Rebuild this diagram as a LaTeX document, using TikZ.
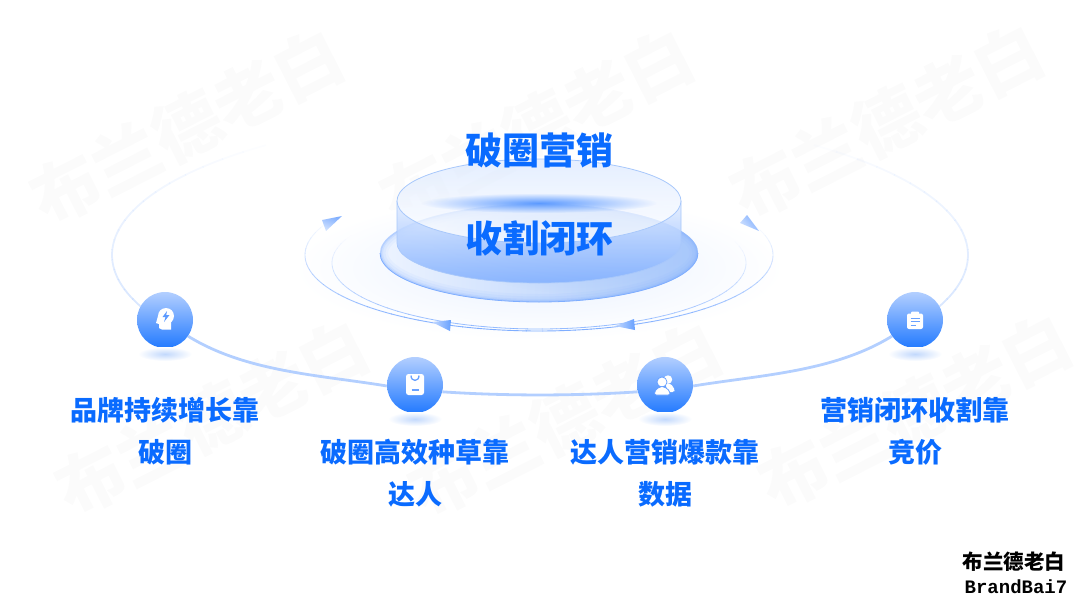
\documentclass[tikz,border=0pt]{standalone}
\usepackage{fontspec}
\setmainfont{Noto Sans CJK SC}
\newfontfamily\logofont{Liberation Mono}
\usepackage{tikz}
\usetikzlibrary{shapes, positioning, fadings}
\definecolor{textblue}{HTML}{0A6BFF}
\definecolor{ringblue}{HTML}{7FAEFF}
\definecolor{arcblue}{HTML}{B3CFFF}
\definecolor{rimblue}{HTML}{A8C8FB}
\definecolor{markgray}{HTML}{FBFBFB}
\tikzfading[name=softblob, inner color=transparent!0, outer color=transparent!100]
\tikzset{
    bubble/.style={circle, minimum size=56pt, inner sep=0pt, shade, top color=arcblue, bottom color=textblue!90!white},
    caption/.style={font=\bfseries\fontsize{27}{42}\selectfont, text=textblue, align=center, inner sep=0pt},
    bigword/.style={font=\bfseries\fontsize{37}{40}\selectfont, text=textblue, inner sep=0pt},
    watermark/.style={font=\bfseries\fontsize{68}{70}\selectfont, text=markgray, rotate=27, inner sep=0pt},
    glowspot/.style={shade, inner color=#1, outer color=white},
    softspot/.style={fill=#1, path fading=softblob},
    arcline/.style={draw=arcblue, line width=2.8pt},
    tipfill/.style={shade, left color=#1, right color=#1!35!white},
}
\begin{document}
\begin{tikzpicture}[x=1pt, y=-1pt]
        \useasboundingbox (0,0) rectangle (1080,608);
        % watermarks
        \foreach \mx/\my/\mname in {187/127/ma, 537/127/mb, 887/122/mc, 212/418/md, 565/420/me, 915/412/mf}
            \node[watermark] (\mname) at (\mx,\my) {布兰德老白};
        % big arc, faded upper ends
        \foreach \t in {158,162,...,226} {
            \pgfmathsetmacro\o{max(0,0.5*(232-\t)/74)}
            \draw[arcblue, line width=1.8pt, opacity=\o] plot[domain=\t:\t+4.2, samples=4] ({540+428*cos(\x)},{255+143*sin(\x)});
            \draw[arcblue, line width=1.8pt, opacity=\o] plot[domain=180-\t:176-\t-0.2, samples=4] ({540+428*cos(\x)},{255+143*sin(\x)});
        }
        % glow under the disc
        \shade[glowspot=ringblue!18!white] (539,268) ellipse [x radius=245pt, y radius=72pt];
        % rings
        \foreach \t in {-43,-39,...,219} {
            \pgfmathsetmacro\o{max(0,min(1,0.3+0.7*sin(\t)))}
            \draw[ringblue, line width=0.9pt, opacity=\o] plot[domain=\t:\t+4.2, samples=4] ({539+234*cos(\x)},{255+76*sin(\x)});
        }
        \foreach \t in {-47,-43,...,223} {
            \pgfmathsetmacro\o{max(0,min(1,0.22+0.6*sin(\t)))}
            \draw[ringblue, line width=0.8pt, opacity=\o] plot[domain=\t:\t+4.2, samples=4] ({539+207*cos(\x)},{263+66*sin(\x)});
        }
        \shade[tipfill=ringblue, shading angle=-20] (322,220) -- (342,216) -- (326,231) -- cycle;
        \shade[tipfill=ringblue, shading angle=-50] (747,215) -- (759,231) -- (740,223) -- cycle;
        \shade[left color=ringblue!45!white, right color=ringblue!80!textblue] (432,322) -- (451,320) -- (450,331) -- cycle;
        \shade[left color=ringblue!45!white, right color=ringblue!80!textblue] (615,326) -- (634,319) -- (635,330) -- cycle;
        % disc
        \shade[left color=ringblue!14!white, right color=rimblue] (539,253) ellipse [x radius=159pt, y radius=49pt];
        \begin{scope}
            \clip (539,253) ellipse [x radius=159pt, y radius=49pt];
            \fill[softspot=rimblue] (600,235) ellipse [x radius=170pt, y radius=60pt];
            \foreach \w/\o in {16/0.07, 11/0.09, 6/0.15, 3/0.3}
                \draw[ringblue, line width=\w pt, opacity=\o] (539,253) ellipse [x radius=159pt, y radius=49pt];
        \end{scope}
        \draw[ringblue, line width=0.8pt] (380,253) arc (180:360:159pt and 49pt);
        % cylinder
        \shade[top color=ringblue!22!white, bottom color=ringblue, opacity=0.85] (397,201) arc (180:360:142pt and 41pt) -- (681,243) arc (360:180:142pt and 40pt) -- cycle;
        \draw[rimblue, line width=0.7pt] (397,201) -- (397,243) arc (180:360:142pt and 40pt) -- (681,201);
        \shade[top color=ringblue!28!white, middle color=white, bottom color=white, opacity=0.75] (539,201) ellipse [x radius=142pt, y radius=42pt];
        \draw[rimblue, line width=0.8pt] (539,201) ellipse [x radius=142pt, y radius=42pt];
        \fill[softspot=ringblue!70!textblue] (539,203) ellipse [x radius=118pt, y radius=10pt];
        % titles
        \node[bigword] (toptitle) at (539,150) {破圈营销};
        \node[bigword] (midtitle) at (539,238) {收割闭环};
        % nodes
        \node[bubble] (brain) at (165,320) {};
        \node[bubble] (bag) at (415,385) {};
        \node[bubble] (people) at (665,385) {};
        \node[bubble] (clip) at (915,320) {};
        \foreach \n/\sx/\sy in {a/165/354, b/415/419, c/665/419, d/915/354}
            \shade[glowspot=rimblue!70!white] (\sx,\sy) ellipse [x radius=27pt, y radius=7pt];
        % connectors
        \draw[arcline] (brain.-35) .. controls (246,372) and (320,375) .. (bag.182);
        \draw[arcline] (bag.-14) .. controls (505,396) and (575,396) .. (people.194);
        \draw[arcline] (people.-2) .. controls (760,375) and (834,372) .. (clip.215);
        % icons
        \begin{scope}[shift={(brain)}]
            \fill[white] (1,-4) circle (8pt);
            \fill[white] (-7,-4) -- (-9,3) -- (-6,4) -- (-6,8) -- (-3,9.5) -- (6,9.5) -- (6,2) -- cycle;
            \fill[ringblue!70!textblue] (2,-9) -- (-2.5,-3) -- (0.5,-3) -- (-1,2) -- (4.5,-5) -- (1.2,-5) -- cycle;
        \end{scope}
        \begin{scope}[shift={(bag)}]
            \fill[white, rounded corners=2.5pt] (-9,-11) rectangle (9,10);
            \draw[ringblue!80!textblue, line width=1.3pt] (-4,-9.5) .. controls (-4,-3) and (4,-3) .. (4,-9.5);
            \draw[ringblue!80!textblue, line width=1.3pt] (-3.5,5) -- (3.5,5);
        \end{scope}
        \begin{scope}[shift={(people)}]
            \fill[white] (3,-5.5) circle (4.2pt);
            \fill[white, rounded corners=1.5pt] (0,-2) -- (6,-1) -- (10,5) -- (9,7) -- (3,7) -- cycle;
            \fill[white, draw=ringblue!75!textblue, line width=0.7pt] (-3,-3) circle (5pt);
            \fill[white, draw=ringblue!75!textblue, line width=0.7pt, rounded corners=2pt] (-5,1.5) -- (-10.5,6) -- (-10.5,10) -- (5,10) -- (5,6) -- (-1,1.5) -- cycle;
        \end{scope}
        \begin{scope}[shift={(clip)}]
            \fill[white, rounded corners=2pt] (-8,-6.5) rectangle (8,9);
            \fill[white, rounded corners=1pt] (-4,-8.5) rectangle (4,-3.5);
            \draw[ringblue!80!textblue, line width=1pt] (-4.5,-2) -- (4.5,-2) (-4.5,1.5) -- (4.5,1.5) (-4.5,5) -- (1,5);
        \end{scope}
        % captions
        \node[caption] (brainlabel) at (165,431) {品牌持续增长靠\\破圈};
        \node[caption] (baglabel) at (415,473) {破圈高效种草靠\\达人};
        \node[caption] (peoplelabel) at (665,473) {达人营销爆款靠\\数据};
        \node[caption] (cliplabel) at (915,431) {营销闭环收割靠\\竞价};
        % logo
        \node[font=\bfseries\fontsize{20.5}{22}\selectfont, inner sep=0pt] (logocn) at (1014,562) {布兰德老白};
        \node[font=\logofont\bfseries\fontsize{19}{20}\selectfont, inner sep=0pt] (logoen) at (1016,587) {BrandBai7};
\end{tikzpicture}
\end{document}
